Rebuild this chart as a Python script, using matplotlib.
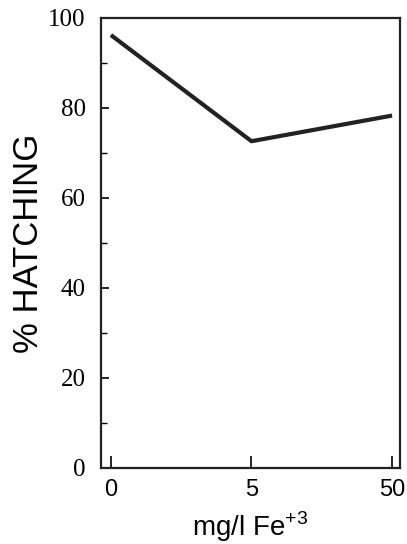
import matplotlib

matplotlib.use("Agg")
import matplotlib.pyplot as plt
from matplotlib.ticker import MultipleLocator

# valores
doses = ["0", "5", "50"]
hatching = [96.2, 72.6, 78.3]
y_ticks = [0, 20, 40, 60, 80, 100]

plt.rcParams.update({"font.family": "Liberation Sans"})

fig = plt.figure(figsize=(4.07, 5.44), dpi=100)
ax = fig.add_axes([0.248, 0.140, 0.735, 0.827])

x = range(len(doses))
ax.plot(x, hatching, color="#222222", lw=3.0, solid_capstyle="butt")

ax.set_xlim(-0.071, 2.057)
ax.set_ylim(0, 100)
ax.set_xticks(list(x))
ax.set_xticklabels(doses, fontsize=17)
ax.set_yticks(y_ticks)
ax.set_yticklabels([str(v) for v in y_ticks], fontsize=18, family="Liberation Serif")
ax.yaxis.set_minor_locator(MultipleLocator(10))

ax.tick_params(axis="x", direction="in", length=9, width=1.2, pad=8, top=False)
ax.tick_params(axis="y", which="major", direction="in", length=6, width=1.2, pad=11, right=False)
ax.tick_params(axis="y", which="minor", direction="in", length=4, width=1.0, right=False)

for s in ax.spines.values():
    s.set_linewidth(1.6)
    s.set_color("#222222")

ax.set_ylabel("% HATCHING", fontsize=25, labelpad=2)
ax.set_xlabel(r"mg/l Fe$^{\mathregular{+3}}$", fontsize=20, labelpad=6)

fig.savefig("out.png", dpi=100)
